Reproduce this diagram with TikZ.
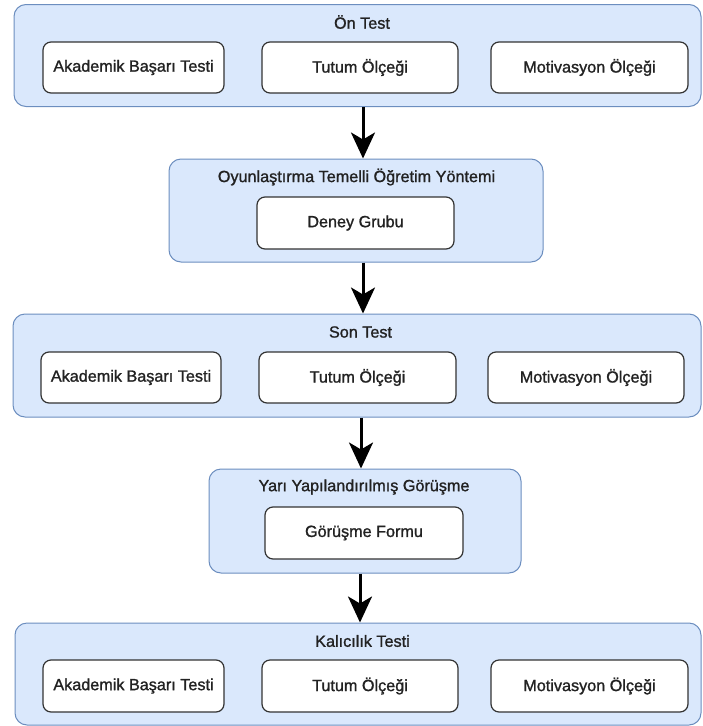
\documentclass[tikz,border=0pt]{standalone}
\usepackage{fontspec}
\setmainfont{Liberation Sans}
\newfontfamily\lblfont{Liberation Sans}[FakeBold=1.2]
\usepackage{xcolor}
\usepackage{tikz}
\usetikzlibrary{arrows.meta}

\definecolor{panelfill}{HTML}{DAE8FC}
\definecolor{paneldraw}{HTML}{6C8EBF}
\definecolor{boxdraw}{HTML}{333333}
\definecolor{txt}{HTML}{222222}

\begin{document}
\begin{tikzpicture}[x=1pt, y=-1pt,
        panel/.style = {draw = paneldraw, fill = panelfill, line width = 1pt,
            rounded corners = 12pt, inner sep = 0pt},
        itembox/.style = {draw = boxdraw, fill = white, line width = 1.2pt,
            rounded corners = 8pt, inner sep = 0pt, minimum height = 51pt,
            text = txt, font = \lblfont\fontsize{16.2}{19}\selectfont},
        title/.style = {text = txt, font = \lblfont\fontsize{16.2}{19}\selectfont, inner sep = 0pt},
        flow/.style = {-{Stealth[length = 26pt, width = 24pt, inset = 7pt]},
            line width = 3pt, black}]
        \useasboundingbox (0, 0) rectangle (702, 726);

        % panels
        \node[panel, minimum width = 687pt, minimum height = 102pt] (on) at (357.5, 55.5) {};
        \node[panel, minimum width = 374pt, minimum height = 103pt] (oyun) at (356, 210.5) {};
        \node[panel, minimum width = 688pt, minimum height = 103pt] (son) at (357, 365.5) {};
        \node[panel, minimum width = 312pt, minimum height = 104pt] (yari) at (365, 521) {};
        \node[panel, minimum width = 686pt, minimum height = 102pt] (kal) at (358, 674) {};

        % titles
        \node[title] (onT) at (362, 22) {Ön Test};
        \node[title] (oyunT) at (356.5, 177) {Oyunlaştırma Temelli Öğretim Yöntemi};
        \node[title] (sonT) at (360.5, 332) {Son Test};
        \node[title] (yariT) at (364, 487) {Yarı Yapılandırılmış Görüşme};
        \node[title] (kalT) at (362.5, 641) {Kalıcılık Testi};

        % boxes
        \node[itembox, minimum width = 181pt] (onA) at (133.5, 67.5) {Akademik Başarı Testi};
        \node[itembox, minimum width = 196pt] (onB) at (360, 67.5) {Tutum Ölçeği};
        \node[itembox, minimum width = 197pt] (onC) at (589.5, 67.5) {Motivasyon Ölçeği};

        \node[itembox, minimum width = 197pt, minimum height = 52pt] (deney) at (355.5, 223) {Deney Grubu};

        \node[itembox, minimum width = 180pt] (sonA) at (131, 377.5) {Akademik Başarı Testi};
        \node[itembox, minimum width = 197pt] (sonB) at (357.5, 377.5) {Tutum Ölçeği};
        \node[itembox, minimum width = 196pt] (sonC) at (586, 377.5) {Motivasyon Ölçeği};

        \node[itembox, minimum width = 198pt, minimum height = 52pt] (form) at (364, 533) {Görüşme Formu};

        \node[itembox, minimum width = 181pt, minimum height = 52pt] (kalA) at (133.5, 686) {Akademik Başarı Testi};
        \node[itembox, minimum width = 196pt, minimum height = 52pt] (kalB) at (360, 686) {Tutum Ölçeği};
        \node[itembox, minimum width = 197pt, minimum height = 52pt] (kalC) at (589.5, 686) {Motivasyon Ölçeği};

        % arrows
        \draw[flow] ([xshift = 5.5pt]on.south) -- ([xshift = 5.5pt]on.south |- oyun.north);
        \draw[flow] ([xshift = 7pt]oyun.south) -- ([xshift = 7pt]oyun.south |- son.north);
        \draw[flow] ([xshift = 4pt]son.south) -- ([xshift = 4pt]son.south |- yari.north);
        \draw[flow] ([xshift = -5pt]yari.south) -- ([xshift = -5pt]yari.south |- kal.north);
    \end{tikzpicture}
\end{document}
